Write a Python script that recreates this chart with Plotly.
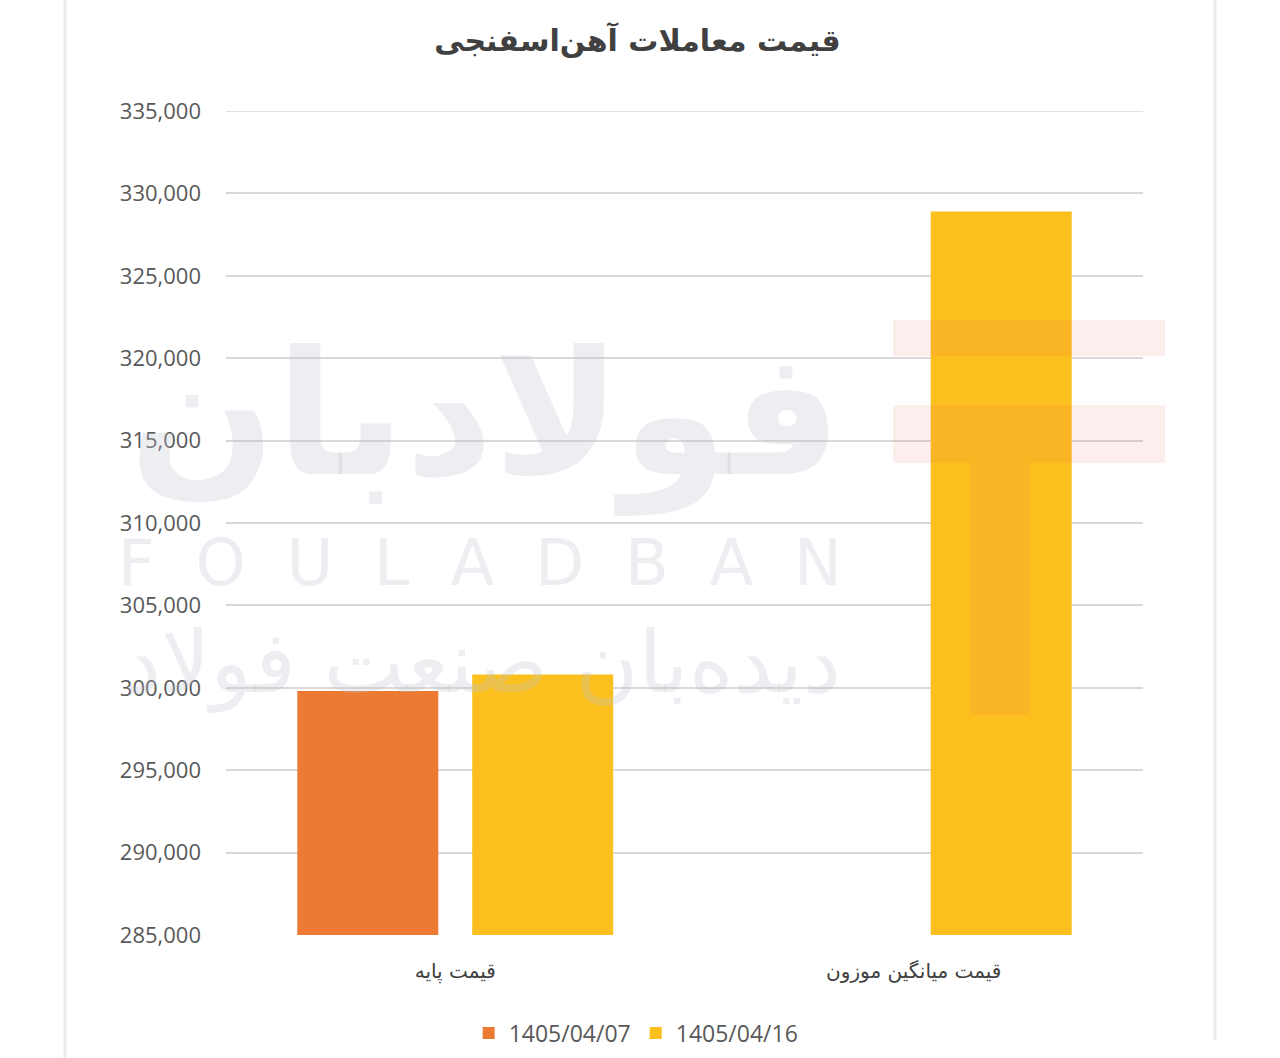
import plotly.graph_objects as go

categories = ["قیمت پایه", "قیمت میانگین موزون"]
series_names = ["1405/04/07", "1405/04/16"]
values_0407 = [299800, None]
values_0416 = [300800, 328900]
y_ticks = [285000, 290000, 295000, 300000, 305000, 310000, 315000, 320000, 325000, 330000, 335000]

fig = go.Figure()
fig.add_trace(go.Bar(name=series_names[0], x=categories, y=values_0407,
                     marker=dict(color="#EC7A32", line=dict(width=0))))
fig.add_trace(go.Bar(name=series_names[1], x=categories, y=values_0416,
                     marker=dict(color="#FBC01E", line=dict(width=0))))

W, H = 1280, 1058
L, R, T, B = 226, 137, 111, 123
pw, ph = W - L - R, H - T - B

def px_x(x):
    return (x - L) / pw

def px_y(y):
    return 1 - (y - T) / ph

wm = "rgba(190,195,205,0.28)"
annotations = [
    dict(text="فولادبان", x=px_x(485), y=px_y(415), xanchor="center", yanchor="middle",
         xref="paper", yref="paper", showarrow=False,
         font=dict(family="DejaVu Sans", size=172, color=wm, weight="bold")),
    dict(text="F  O  U  L  A  D  B  A  N", x=px_x(480), y=px_y(563), xanchor="center", yanchor="middle",
         xref="paper", yref="paper", showarrow=False,
         font=dict(family="DejaVu Sans", size=64, color=wm)),
    dict(text="دیده‌بان صنعت فولاد", x=px_x(482), y=px_y(662), xanchor="center", yanchor="middle",
         xref="paper", yref="paper", showarrow=False,
         font=dict(family="DejaVu Sans", size=86, color=wm)),
]

def px_rect(x0, y0, x1, y1, **kw):
    return dict(type="rect", xref="paper", yref="paper",
                x0=px_x(x0), x1=px_x(x1), y0=px_y(y1), y1=px_y(y0), **kw)

def px_line(x0, y0, x1, y1, **kw):
    return dict(type="line", xref="paper", yref="paper",
                x0=px_x(x0), x1=px_x(x1), y0=px_y(y0), y1=px_y(y1), **kw)

red_wm = "rgba(235,90,90,0.10)"
shapes = [
    px_line(65, 0, 65, 1058, line=dict(color="#EBEBEB", width=3), layer="below"),
    px_line(1215, 0, 1215, 1040, line=dict(color="#EBEBEB", width=3), layer="below"),
    px_rect(893, 320, 1165, 356, line=dict(width=0), fillcolor=red_wm, layer="above"),
    px_rect(893, 405, 1165, 463, line=dict(width=0), fillcolor=red_wm, layer="above"),
    px_rect(970, 463, 1030, 715, line=dict(width=0), fillcolor=red_wm, layer="above"),
]

fig.update_layout(
    width=W, height=H, autosize=False,
    margin=dict(l=L, r=R, t=T, b=B),
    paper_bgcolor="white", plot_bgcolor="white",
    barmode="group", bargap=0.237, bargroupgap=0.194,
    title=dict(text="<b>قیمت معاملات آهن‌اسفنجی</b>", x=0.498, xanchor="center",
               y=1 - 40 / H, yanchor="middle",
               font=dict(family="DejaVu Sans", size=30, color="#404040")),
    yaxis=dict(range=[285000, 335000], tickvals=y_ticks, tickformat=",d",
               showgrid=True, gridcolor="#D9D9D9", gridwidth=1.5, zeroline=False,
               showline=False, ticks="", ticklabelstandoff=24, automargin=False,
               tickfont=dict(family="Open Sans", size=22, color="#595959")),
    xaxis=dict(showline=False, ticks="", ticklabelstandoff=22, automargin=False,
               tickfont=dict(family="DejaVu Sans", size=20, color="#404040")),
    legend=dict(orientation="h", xref="container", yref="container",
                x=0.497, xanchor="center", y=(H - 1033) / H, yanchor="middle",
                font=dict(family="Open Sans", size=23, color="#595959"),
                itemwidth=30, traceorder="normal", tracegroupgap=0),
    annotations=annotations,
    shapes=shapes,
)

# draw a gridline at the top of the range too (Plotly skips it at the exact edge)
fig.add_shape(type="line", xref="paper", yref="y", x0=0, x1=1, y0=y_ticks[-1], y1=y_ticks[-1],
              line=dict(color="#D9D9D9", width=1.5), layer="below")

fig.write_html("out.html", config={"displayModeBar": False},
               post_script="document.body.style.margin='0';document.body.style.padding='0';")
